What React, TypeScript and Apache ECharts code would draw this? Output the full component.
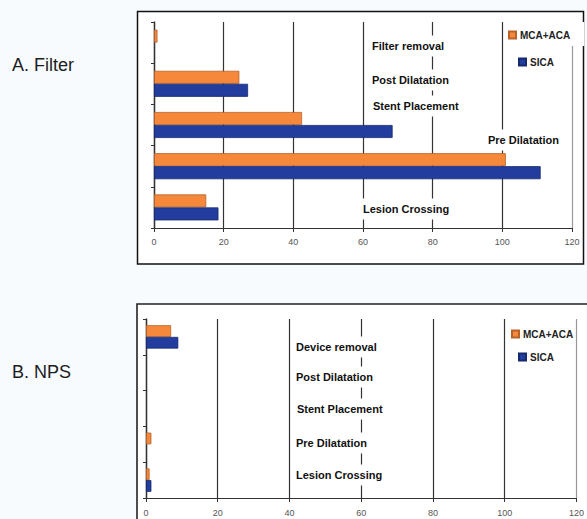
import React, { useEffect, useRef } from "react";
import * as echarts from "echarts";

// Procedure stages, listed bottom-to-top as they sit on the category axis
const stagesFilter = ["Lesion Crossing", "Pre Dilatation", "Stent Placement", "Post Dilatation", "Filter removal"];
const filterMcaAca = [15, 101, 42.5, 24.5, 1];
const filterSica = [18.5, 111, 68.5, 27, null];

const stagesNps = ["Lesion Crossing", "Pre Dilatation", "Stent Placement", "Post Dilatation", "Device removal"];
const npsMcaAca = [1, 1.5, null, null, 7];
const npsSica = [1.5, null, null, null, 9];

const xTicks = [0, 20, 40, 60, 80, 100, 120];
const seriesNames = ["MCA+ACA", "SICA"];
const panelTitles = ["A. Filter", "B. NPS"];

// where each stage caption sits inside its panel (left x, middle y)
const filterLabelPos = [
  [363, 209],
  [488, 140],
  [373, 106],
  [372, 80],
  [372, 46],
];
const npsLabelPos = [
  [296, 475],
  [296, 443],
  [297, 409],
  [296, 377],
  [296, 347],
];

const ORANGE = "#f5883a";
const ORANGE_EDGE = "#b8622a";
const BLUE = "#223d9e";
const BLUE_EDGE = "#17296e";
const TEXT_FONT = "'Liberation Sans', Arial, sans-serif";

// captions sit above the grid lines (hiding them behind a white box) but below the bars
function stageCaptions(names: string[], pos: number[][]) {
  return names.map((name, i) => ({
    type: "text",
    z: 1,
    x: pos[i][0] - 3,
    y: pos[i][1],
    style: {
      text: name,
      font: `bold 11px ${TEXT_FONT}`,
      fill: "#111",
      verticalAlign: "middle",
      align: "left",
      backgroundColor: "#ffffff",
      padding: [5, 3],
    },
  }));
}

function valueAxis(gridIndex: number, labelMargin: number) {
  return {
    type: "value",
    gridIndex,
    min: 0,
    max: 120,
    interval: 20,
    axisLine: { show: true, lineStyle: { color: "#333", width: 1.2 } },
    axisTick: { show: true, length: 4, lineStyle: { color: "#333" } },
    axisLabel: {
      color: "#555",
      fontSize: 9,
      fontFamily: TEXT_FONT,
      margin: labelMargin,
      formatter: (v: number) => (xTicks.includes(v) ? String(v) : ""),
    },
    splitLine: {
      show: true,
      lineStyle: {
        color: ["#333", "#333", "#333", "#333", "#333", "#333", "#999"],
        width: 1.2,
      },
    },
  };
}

function stageAxis(gridIndex: number, names: string[]) {
  return {
    type: "category",
    gridIndex,
    data: names,
    axisLine: { show: true, lineStyle: { color: "#333", width: 1.4 } },
    axisTick: { show: true, length: 3, lineStyle: { color: "#333" } },
    axisLabel: { show: false },
    splitLine: { show: false },
  };
}

function barSeries(
  name: string,
  data: (number | null)[],
  axisIndex: number,
  color: string,
  edge: string,
  width: number
) {
  return {
    type: "bar",
    name,
    z: 3,
    xAxisIndex: axisIndex,
    yAxisIndex: axisIndex,
    data,
    barWidth: width,
    barGap: "0%",
    itemStyle: { color, borderColor: edge, borderWidth: 0.8 },
  };
}

function legendItem(name: string, left: number, top: number, extra: any = {}) {
  return {
    data: [name],
    left,
    top,
    orient: "vertical",
    padding: 0,
    itemWidth: 7,
    itemHeight: 7,
    itemGap: 0,
    icon: "rect",
    selectedMode: false,
    textStyle: {
      fontSize: 10,
      fontWeight: "bold",
      fontFamily: TEXT_FONT,
      color: "#222",
      padding: [0, 0, 0, -1],
    },
    ...extra,
  };
}

export default function App() {
  const ref = useRef<HTMLDivElement>(null);

  useEffect(() => {
    if (!ref.current) return;
    const chart = echarts.init(ref.current, undefined, { renderer: "svg" });

    chart.setOption({
      animation: false,
      backgroundColor: "#f8fbfd",
      grid: [
        { left: 154, right: 15, top: 22, bottom: 291 },
        { left: 146, right: 7, top: 319, bottom: 21 },
      ],
      xAxis: [valueAxis(0, 9), valueAxis(1, 10)],
      yAxis: [stageAxis(0, stagesFilter), stageAxis(1, stagesNps)],
      legend: [
        legendItem(seriesNames[0], 505, 22, {
          backgroundColor: "#ffffff",
          padding: [8, 14, 6, 3],
        }),
        legendItem(seriesNames[1], 518, 57),
        legendItem(seriesNames[0], 511, 329),
        legendItem(seriesNames[1], 518, 352),
      ],
      // MCA+ACA listed first so its bar sits above the SICA bar in each band
      series: [
        barSeries(seriesNames[0], filterMcaAca, 0, ORANGE, ORANGE_EDGE, 13),
        barSeries(seriesNames[1], filterSica, 0, BLUE, BLUE_EDGE, 13),
        barSeries(seriesNames[0], npsMcaAca, 1, ORANGE, ORANGE_EDGE, 11.7),
        barSeries(seriesNames[1], npsSica, 1, BLUE, BLUE_EDGE, 11.7),
      ],
      graphic: [
        {
          type: "rect",
          z: -100,
          shape: { x: 137.5, y: 11.5, width: 446, height: 252.5 },
          style: { fill: "#ffffff", stroke: "#111", lineWidth: 1.5 },
        },
        {
          type: "rect",
          z: -100,
          shape: { x: 137, y: 304, width: 470, height: 240 },
          style: { fill: "#ffffff", stroke: "#222", lineWidth: 1.6 },
        },
        {
          type: "text",
          x: 12,
          y: 65,
          style: {
            text: panelTitles[0],
            font: `18px ${TEXT_FONT}`,
            fill: "#1c1c1c",
            verticalAlign: "middle",
          },
        },
        {
          type: "text",
          x: 12,
          y: 372,
          style: {
            text: panelTitles[1],
            font: `18px ${TEXT_FONT}`,
            fill: "#1c1c1c",
            verticalAlign: "middle",
          },
        },
        ...stageCaptions(stagesFilter, filterLabelPos),
        ...stageCaptions(stagesNps, npsLabelPos),
      ],
    });

    return () => chart.dispose();
  }, []);

  return (
    <div
      ref={ref}
      style={{ position: "fixed", left: 0, top: 0, width: 587, height: 519 }}
    />
  );
}
